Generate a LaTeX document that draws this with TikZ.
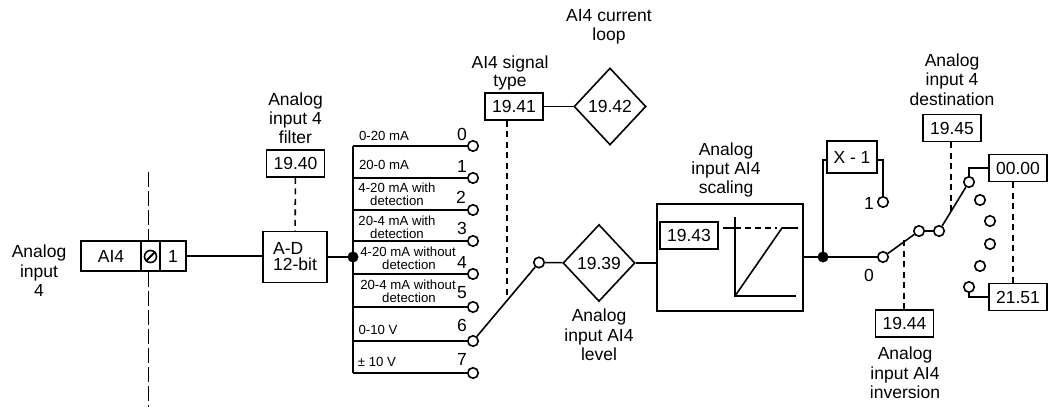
\documentclass[tikz,border=0pt]{standalone}
\usepackage{fontspec}
\setmainfont{Liberation Sans}
\usetikzlibrary{positioning,calc,shapes.geometric}

\tikzset{
  wire/.style={line width=1.6pt},
  ctrl/.style={line width=1.6pt, dash pattern=on 6pt off 4.5pt},
  parbox/.style={draw, line width=1.6pt, minimum width=58pt, minimum height=27pt, inner sep=0pt, font=\fontsize{17.5}{19}\selectfont},
  pardia/.style={draw, diamond, line width=1.6pt, minimum width=72pt, minimum height=77pt, inner sep=0pt, font=\fontsize{17.5}{19}\selectfont},
  swpt/.style={draw, circle, fill=white, line width=1.6pt, minimum size=10.5pt, inner sep=0pt},
  junct/.style={draw, circle, fill=black, minimum size=10.5pt, inner sep=0pt},
  lab/.style={align=center, inner sep=0pt, font=\fontsize{17.5}{19.4}\selectfont},
  smalllab/.style={align=center, inner sep=0pt, font=\fontsize{13.2}{13}\selectfont},
}

\begin{document}
\begin{tikzpicture}[x=1pt, y=-1pt]
  \useasboundingbox (0,0) rectangle (1049,409);

  % --- Input terminal ---
  \node[lab] (labin) at (39,271) {Analog\\input\\4};
  \node[draw, line width=1.6pt, minimum width=60pt, minimum height=30pt, inner sep=0pt, font=\fontsize{17.5}{19}\selectfont] (ai) at (111,256) {AI4};
  \node[draw, line width=1.6pt, minimum width=19pt, minimum height=30pt, inner sep=0pt] (term) at (150.5,256) {};
  \node[draw, line width=1.6pt, minimum width=26pt, minimum height=30pt, inner sep=0pt, font=\fontsize{17.5}{19}\selectfont] (one) at (173,256) {1};
  \node[draw, circle, line width=1.6pt, minimum size=12pt, inner sep=0pt] (screw) at (150.5,256.5) {};
  \draw[line width=2pt] (screw.south west) -- (screw.north east);

  % Isolation line
  \coordinate (isotop) at (148.5,172);
  \coordinate (isobot) at (148.5,407);
  \draw[line width=1.6pt, dash pattern=on 15pt off 4pt] (isotop) -- (isotop |- term.north);
  \draw[line width=1.6pt, dash pattern=on 15pt off 4pt] (isotop |- term.south) -- (isobot);

  % --- A-D converter ---
  \node[draw, line width=1.6pt, minimum width=64pt, minimum height=51pt, inner sep=0pt, align=left, font=\fontsize{17.5}{16}\selectfont] (ad) at (295,257) {A-D\\12-bit};
  \node[parbox] (p40) at (295.5,163.5) {19.40};
  \node[lab, above=5pt of p40] (lab40) {Analog\\input 4\\filter};
  \draw[ctrl] (p40) -- (ad);
  \draw[wire] (one.east) -- (one.east -| ad.west);

  % --- Signal type selector ---
  \node[junct] (bus) at (353,257) {};
  \draw[line width=2.2pt] (ad.east |- bus) -- (bus);
  \foreach \i/\y/\w in {0/146/1.5, 1/178/1.9, 2/210/1.9, 3/241/1.9, 4/274/1.9, 5/307/1.9, 6/341/2.8, 7/373/1.5} {
    \node[swpt] (sw\i) at (473,\y) {};
    \coordinate (bus\i) at (353,\y);
    \draw[line width=\w pt] (bus\i) -- (sw\i);
  }
  \draw[wire] (bus0) -- (bus7);
  \draw[line width=2.8pt] (bus) -- (bus6);

  % Digits
  \foreach \i/\x/\y in {0/462/134, 1/462/166, 2/461/197, 3/462/228, 4/462/262, 5/462/293, 6/462/325, 7/462/359} {
    \node[lab] (dig\i) at (\x,\y) {\i};
  }

  % Ranges
  \node[smalllab] (r0) at (384,136) {0-20 mA};
  \node[smalllab] (r1) at (384,165) {20-0 mA};
  \node[smalllab] (r2) at (397,194.5) {4-20 mA with\\detection};
  \node[smalllab] (r3) at (397,227.5) {20-4 mA with\\detection};
  \node[smalllab] (r4) at (408,258.5) {4-20 mA without\\\hspace*{2pt}detection};
  \node[smalllab] (r5) at (408,291.5) {20-4 mA without\\\hspace*{2pt}detection};
  \node[smalllab] (r6) at (378,330) {0-10 V};
  \node[smalllab] (r7) at (377,362) {± 10 V};

  % --- Signal type and current loop ---
  \node[parbox] (p41) at (514,106.5) {19.41};
  \node[lab, font=\fontsize{17.5}{17.5}\selectfont] (lab41) at (510,73) {AI4 signal\\type};
  \node[pardia] (p42) at (610,106.5) {19.42};
  \node[lab] (lab42) at (609,27) {AI4 current\\loop};
  \draw[wire] (p41) -- (p42);
  \coordinate (ctl41) at (507,296);
  \draw[ctrl] (ctl41 |- p41.south) -- (ctl41);

  % --- Level and scaling ---
  \node[swpt] (swa) at (539,262.5) {};
  \draw[wire] (sw6) -- (swa);
  \node[pardia] (p39) at (599,263) {19.39};
  \node[lab] (lab39) at (599,335) {Analog\\input AI4\\level};
  \draw[wire] (swa) -- (p39);

  \node[draw, line width=1.6pt, minimum width=146pt, minimum height=107pt, inner sep=0pt] (scal) at (730,257.5) {};
  \node[lab] (labscal) at (726,170) {Analog\\input AI4\\scaling};
  \node[parbox] (p43) at (689,235.5) {19.43};
  \draw[wire] (p39) -- (p39 -| scal.west);

  % Ramp inside
  \draw[wire] (735,217) -- (735,296) -- (796,296);
  \draw[wire] (723,228) -- (735,228);
  \draw[line width=1.6pt, dash pattern=on 6pt off 4pt] (735,228) -- (777,228);
  \draw[wire] (735,296) -- (782,228) -- (798,228);

  % --- X - 1 branch ---
  \node[junct] (node2) at (823,257) {};
  \draw[wire] (scal.east |- node2) -- (node2);
  \node[draw, line width=1.6pt, minimum width=50pt, minimum height=32pt, inner sep=0pt, font=\fontsize{17.5}{19}\selectfont] (xm) at (852,157) {X - 1};
  \node[swpt] (sw1b) at (883,202) {};
  \node[swpt] (sw0b) at (883,257) {};
  \node[lab] (dig1b) at (869,203) {1};
  \node[lab] (dig0b) at (869,275) {0};
  \coordinate (xmin) at (827,160);
  \coordinate (xmout) at (877,160);
  \draw[wire] (node2) |- (xmin);
  \draw[wire] (xmout) -| (sw1b);
  \draw[wire] (node2) -- (sw0b);

  % --- Inversion switch ---
  \node[swpt] (swb) at (919,231) {};
  \node[swpt] (swc) at (939,231) {};
  \draw[wire] (sw0b) -- (swb);
  \draw[wire] (swb) -- (swc);
  \node[parbox] (p44) at (904.5,323.5) {19.44};
  \node[lab] (lab44) at (905,373) {Analog\\input AI4\\inversion};
  \coordinate (ctl44) at (904,238);
  \draw[ctrl] (p44.north -| ctl44) -- (ctl44);

  % --- Destination selector ---
  \node[parbox] (p45) at (952,128) {19.45};
  \node[lab] (lab45) at (952,79.5) {Analog\\input 4\\destination};
  \coordinate (ctl45) at (951,215);
  \draw[ctrl] (ctl45 |- p45.south) -- (ctl45);
  \foreach \n/\x/\y in {a/969/182, b/980/200, c/990/221, d/990/244, e/980/266, f/969/287} {
    \node[swpt] (dst\n) at (\x,\y) {};
  }
  \draw[wire] (swc) -- (dsta);
  \node[parbox] (p00) at (1018,168) {00.00};
  \node[parbox] (p51) at (1018,297) {21.51};
  \draw[wire] (dsta) |- (p00.west);
  \draw[wire] (dstf) |- (p51.west);
  \coordinate (ctl51) at (1013,283);
  \draw[ctrl] (ctl51 |- p00.south) -- (ctl51);
\end{tikzpicture}
\end{document}
